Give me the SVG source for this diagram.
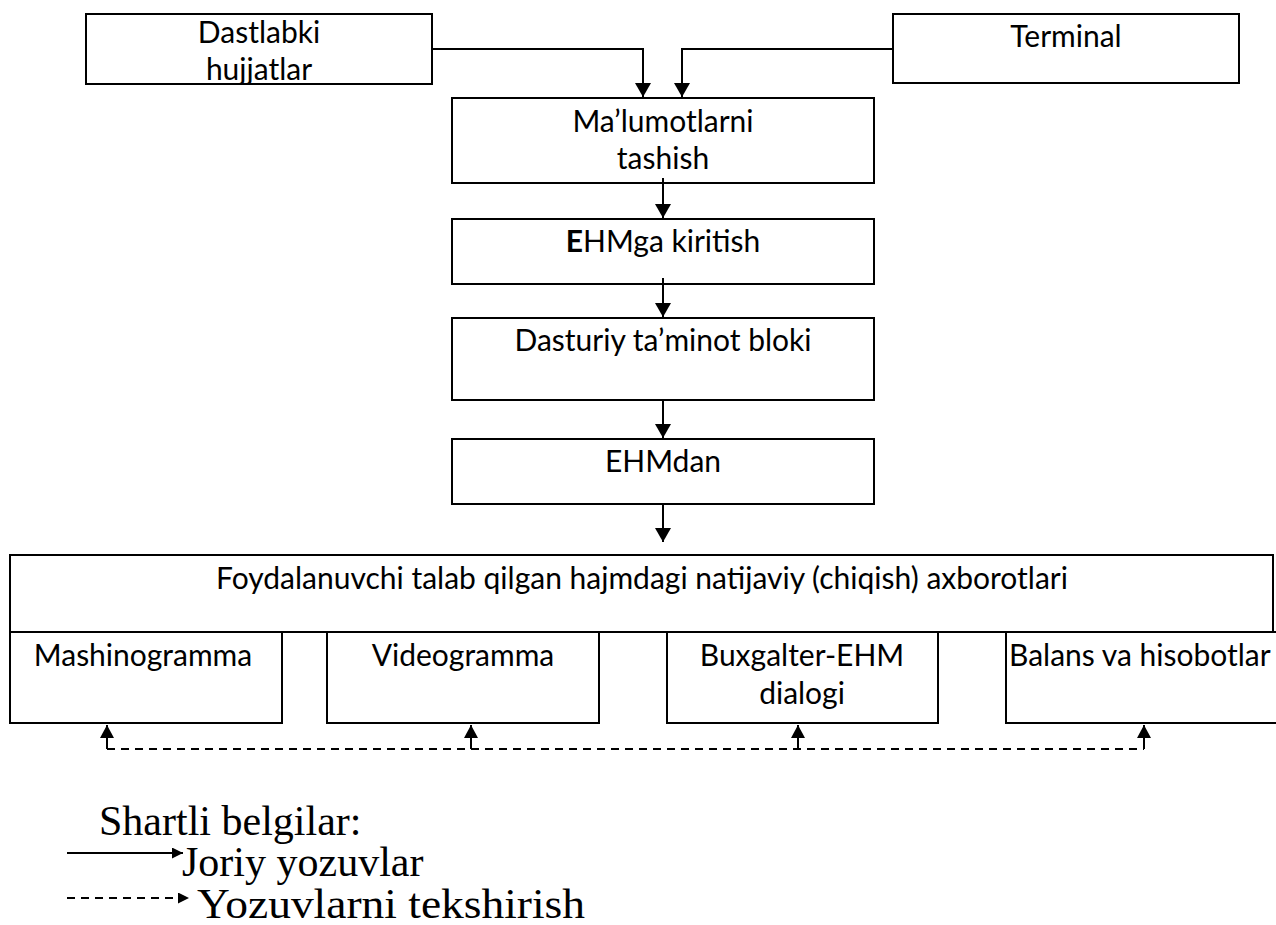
<svg xmlns="http://www.w3.org/2000/svg" width="1276" height="925" viewBox="0 0 1276 925">
  <style>
    .box { fill: #ffffff; stroke: #000000; stroke-width: 2; }
    .lbl { font-family: Lato, "Open Sans", "Liberation Sans", sans-serif; font-size: 30px; fill: #000000; text-anchor: middle; }
    .lbl-left { text-anchor: start; }
    .flow { fill: none; stroke: #000000; stroke-width: 2; }
    .check { fill: none; stroke: #000000; stroke-width: 2; stroke-dasharray: 8 6; }
    .legend { font-family: "Liberation Serif", "Times New Roman", serif; font-size: 42px; fill: #000000; }
  </style>
  <defs>
    <marker id="arrow" viewBox="0 0 14 16" refX="14" refY="8" markerWidth="14" markerHeight="16" markerUnits="userSpaceOnUse" orient="auto">
      <polygon points="0,0 14,8 0,16" fill="#000000"/>
    </marker>
    <marker id="arrow-small" viewBox="0 0 13 14" refX="13" refY="7" markerWidth="13" markerHeight="14" markerUnits="userSpaceOnUse" orient="auto">
      <polygon points="0,0 13,7 0,14" fill="#000000"/>
    </marker>
    <marker id="arrow-legend" viewBox="0 0 11 11" refX="11" refY="5.5" markerWidth="11" markerHeight="11" markerUnits="userSpaceOnUse" orient="auto">
      <polygon points="0,0 11,5.5 0,11" fill="#000000"/>
    </marker>
  </defs>

  <g id="node-dastlabki">
    <rect class="box" x="86" y="14" width="346" height="70"/>
    <text class="lbl" x="259" y="43">Dastlabki</text>
    <text class="lbl" x="259" y="80">hujjatlar</text>
  </g>

  <g id="node-terminal">
    <rect class="box" x="893" y="14" width="346" height="69"/>
    <text class="lbl" x="1066" y="47">Terminal</text>
  </g>

  <g id="node-tashish">
    <rect class="box" x="452" y="98" width="422" height="85"/>
    <text class="lbl" x="663" y="132">Ma’lumotlarni</text>
    <text class="lbl" x="663" y="169">tashish</text>
  </g>

  <g id="node-kiritish">
    <rect class="box" x="452" y="219" width="422" height="65"/>
    <text class="lbl" x="663" y="252"><tspan font-weight="bold">E</tspan>HMga kiritish</text>
  </g>

  <g id="node-dasturiy">
    <rect class="box" x="452" y="318" width="422" height="82"/>
    <text class="lbl" x="663" y="351">Dasturiy ta’minot bloki</text>
  </g>

  <g id="node-ehmdan">
    <rect class="box" x="452" y="439" width="422" height="65"/>
    <text class="lbl" x="663" y="472">EHMdan</text>
  </g>

  <g id="node-natija">
    <rect class="box" x="10" y="555" width="1263" height="77"/>
    <text class="lbl" x="642" y="589">Foydalanuvchi talab qilgan hajmdagi natijaviy (chiqish) axborotlari</text>
  </g>

  <g id="node-mashinogramma">
    <rect class="box" x="10" y="632" width="272" height="91"/>
    <text class="lbl" x="143" y="666">Mashinogramma</text>
  </g>

  <g id="node-videogramma">
    <rect class="box" x="327" y="632" width="272" height="91"/>
    <text class="lbl" x="463" y="666">Videogramma</text>
  </g>

  <g id="node-dialog">
    <rect class="box" x="667" y="632" width="271" height="91"/>
    <text class="lbl" x="802" y="666">Buxgalter-EHM</text>
    <text class="lbl" x="802" y="704">dialogi</text>
  </g>

  <g id="node-balans">
    <rect class="box" x="1006" y="632" width="272" height="91"/>
    <text class="lbl lbl-left" x="1009" y="666">Balans va hisobotlar</text>
  </g>

  <g id="connectors">
    <path class="flow" d="M432,49 H643 V97" marker-end="url(#arrow)"/>
    <path class="flow" d="M893,49 H682 V97" marker-end="url(#arrow)"/>
    <path class="flow" d="M663,178 V218" marker-end="url(#arrow)"/>
    <path class="flow" d="M663,278 V317" marker-end="url(#arrow)"/>
    <path class="flow" d="M663,400 V438" marker-end="url(#arrow)"/>
    <path class="flow" d="M663,504 V542" marker-end="url(#arrow)"/>

    <!-- control loop under the output documents -->
    <path class="check" d="M107,749 H1144"/>
    <path class="flow" d="M107,749 V725" marker-end="url(#arrow-small)"/>
    <path class="flow" d="M471,749 V725" marker-end="url(#arrow-small)"/>
    <path class="flow" d="M798,749 V725" marker-end="url(#arrow-small)"/>
    <path class="flow" d="M1144,749 V725" marker-end="url(#arrow-small)"/>
  </g>

  <g id="legend">
    <text class="legend" x="99" y="835">Shartli belgilar:</text>
    <path class="flow" d="M67,853 H183" marker-end="url(#arrow-legend)"/>
    <text class="legend" x="182" y="876">Joriy yozuvlar</text>
    <path class="check" d="M67,898 H189" stroke-dasharray="8 5" marker-end="url(#arrow-legend)"/>
    <text class="legend" x="197" y="918" font-size="45" textLength="388" lengthAdjust="spacingAndGlyphs">Yozuvlarni tekshirish</text>
  </g>
</svg>
